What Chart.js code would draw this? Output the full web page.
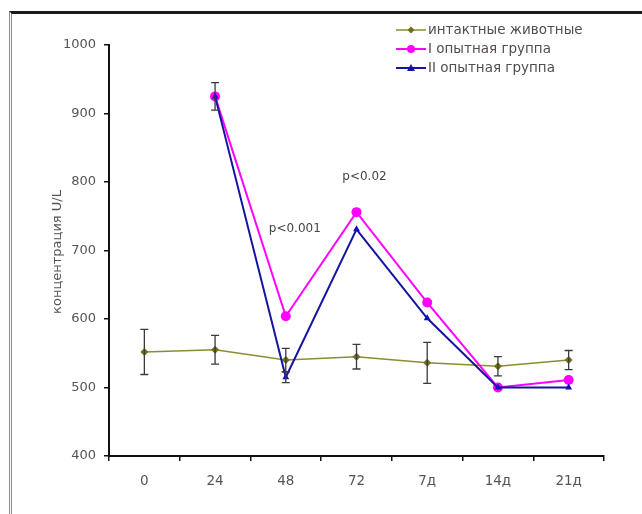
<!DOCTYPE html>
<html><head><meta charset="utf-8">
<script src="https://cdn.jsdelivr.net/npm/chart.js@4/dist/chart.umd.min.js"></script>
<style>
html,body{margin:0;padding:0;background:#fff;}
#wrap{position:relative;width:642px;height:514px;overflow:hidden;}
#frame{position:absolute;left:9px;top:11px;width:700px;height:600px;border-top:3px solid #1a1a1a;border-left:3px double #8a8a8a;pointer-events:none;}
</style></head>
<body>
<div id="wrap"><canvas id="c" width="642" height="514"></canvas><div id="frame"></div></div>
<script>
const categories = ['0','24','48','72','7д','14д','21д'];
const seriesNames = ['интактные животные','I опытная группа','II опытная группа'];
const intactValues = [552, 555, 540, 545, 536, 531, 540];
const intactErrors = [33, 21, 17, 18, 30, 14, 14];
const group1Values = [null, 925, 604, 756, 624, 500, 511];
const group2Values = [null, 925, 515, 731, 601, 500, 500];
const group2Errors = [0, 20, 8, 0, 0, 0, 0];
const yTicks = [400, 500, 600, 700, 800, 900, 1000];
const yTitle = 'концентрация U/L';
const annotationTexts = ['p<0.001', 'p<0.02'];
const annotationIndex = [2, 3];
const annotationValues = [732, 808];

const olive = '#8c8c30', oliveDark = '#707018', magenta = '#ff00ff', blue = '#1414a0';
const FONT = '"DejaVu Sans", Verdana, sans-serif';

const errorBarPlugin = {
  id: 'errorBars',
  afterDatasetsDraw(chart) {
    const ctx = chart.ctx, x = chart.scales.x, y = chart.scales.y;
    const sets = [[intactValues, intactErrors], [group2Values, group2Errors]];
    ctx.save();
    ctx.strokeStyle = '#3a3a3a';
    ctx.lineWidth = 1.3;
    sets.forEach(([vals, errs]) => {
      vals.forEach((v, i) => {
        if (v == null || !errs[i]) return;
        const px = x.getPixelForValue(i);
        const yt = y.getPixelForValue(v + errs[i]);
        const yb = y.getPixelForValue(v - errs[i]);
        ctx.beginPath();
        ctx.moveTo(px, yt); ctx.lineTo(px, yb);
        ctx.moveTo(px - 4, yt); ctx.lineTo(px + 4, yt);
        ctx.moveTo(px - 4, yb); ctx.lineTo(px + 4, yb);
        ctx.stroke();
      });
    });
    ctx.fillStyle = '#444';
    ctx.font = '12px ' + FONT;
    ctx.textAlign = 'center';
    ctx.textBaseline = 'middle';
    const offs = [9, 8];
    annotationTexts.forEach((t, k) => {
      ctx.fillText(t, x.getPixelForValue(annotationIndex[k]) + offs[k], y.getPixelForValue(annotationValues[k]));
    });
    ctx.restore();
  },
  afterDraw(chart) {
    const ctx = chart.ctx;
    // y-axis title
    ctx.save();
    ctx.translate(58, 252);
    ctx.rotate(-Math.PI / 2);
    ctx.fillStyle = '#555';
    ctx.font = '13px ' + FONT;
    ctx.textAlign = 'center';
    ctx.textBaseline = 'middle';
    ctx.fillText(yTitle, 0, 0);
    ctx.restore();
    // legend
    const styles = [
      {c: olive, pc: oliveDark, s: 'diamond'},
      {c: magenta, pc: magenta, s: 'circle'},
      {c: blue, pc: blue, s: 'triangle'}
    ];
    const rows = [30, 49, 68];
    ctx.save();
    ctx.font = '13.5px ' + FONT;
    ctx.textBaseline = 'middle';
    ctx.textAlign = 'left';
    styles.forEach((st, k) => {
      const yy = rows[k];
      ctx.strokeStyle = st.c; ctx.lineWidth = st.s === 'diamond' ? 1.5 : 2;
      ctx.beginPath(); ctx.moveTo(396, yy); ctx.lineTo(426, yy); ctx.stroke();
      ctx.fillStyle = st.pc;
      ctx.beginPath();
      if (st.s === 'diamond') { ctx.moveTo(411, yy-3.5); ctx.lineTo(414.5, yy); ctx.lineTo(411, yy+3.5); ctx.lineTo(407.5, yy); }
      else if (st.s === 'circle') { ctx.arc(411, yy, 4, 0, Math.PI*2); }
      else { ctx.moveTo(411, yy-4); ctx.lineTo(415, yy+3); ctx.lineTo(407, yy+3); }
      ctx.closePath(); ctx.fill();
      ctx.fillStyle = '#554c4c';
      ctx.fillText(seriesNames[k], 428, yy);
    });
    ctx.restore();
  }
};

new Chart(document.getElementById('c'), {
  type: 'line',
  data: {
    labels: categories,
    datasets: [
      {label: seriesNames[0], data: intactValues, borderColor: olive, backgroundColor: oliveDark, borderWidth: 1.5,
       pointStyle: 'rectRot', pointRadius: 4, pointBorderWidth: 0, order: 3, tension: 0},
      {label: seriesNames[1], data: group1Values, borderColor: magenta, backgroundColor: magenta, borderWidth: 2,
       pointStyle: 'circle', pointRadius: 5, pointBorderWidth: 0, order: 2, tension: 0},
      {label: seriesNames[2], data: group2Values, borderColor: blue, backgroundColor: '#1010b8', borderWidth: 2,
       pointStyle: 'triangle', pointRadius: 4, pointBorderWidth: 0, order: 1, tension: 0}
    ]
  },
  options: {
    responsive: false,
    animation: false,
    layout: {padding: {left: 0, top: 45, right: 38, bottom: 0}},
    plugins: {legend: {display: false}, tooltip: {enabled: false}},
    scales: {
      x: {
        offset: true,
        grid: {offset: true, drawOnChartArea: false, drawTicks: true, tickLength: 5, color: '#111', lineWidth: 1.5},
        border: {display: true, color: '#111', width: 2},
        ticks: {color: '#555', padding: 12, font: {family: FONT, size: 13.5}},
        afterFit(s) { s.height = 58; }
      },
      y: {
        min: 400, max: 1000,
        afterBuildTicks(s) { s.ticks = yTicks.map(v => ({value: v})); },
        grid: {drawOnChartArea: false, drawTicks: true, tickLength: 5, color: '#111', lineWidth: 1.5},
        border: {display: true, color: '#111', width: 2},
        ticks: {color: '#555', padding: 8, font: {family: FONT, size: 13}, callback: v => String(v)},
        afterFit(s) { s.width = 109; }
      }
    }
  },
  plugins: [errorBarPlugin]
});
</script>
</body></html>
